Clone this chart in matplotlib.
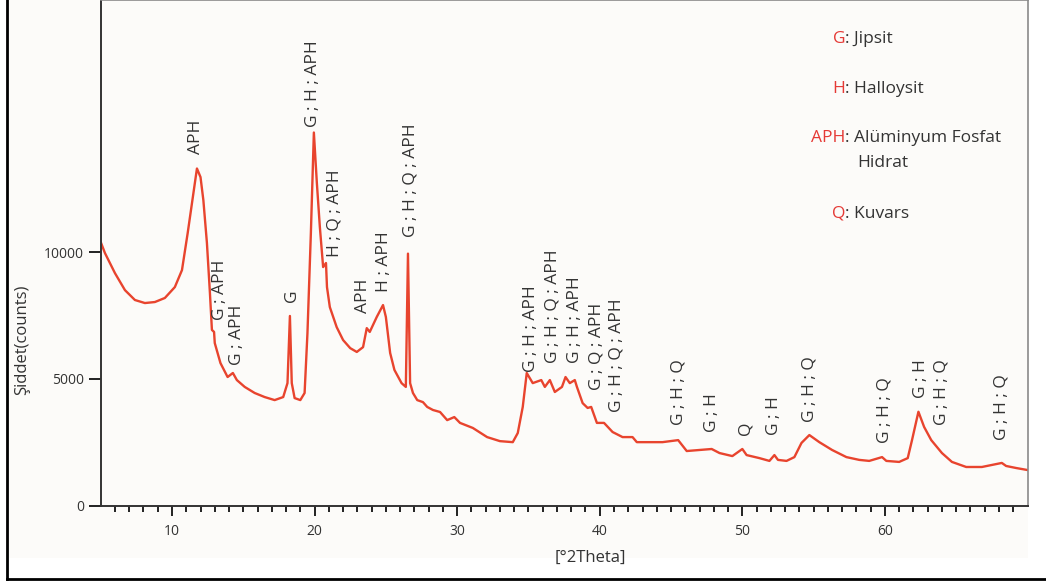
import matplotlib
matplotlib.use("Agg")
import matplotlib.pyplot as plt
from matplotlib.lines import Line2D
from matplotlib.patches import Rectangle

plt.rcParams["font.family"] = ["Open Sans", "DejaVu Sans"]

# ── Diffractogram ─────────────────────────────────────────────────────────────
two_theta = [
    5.0, 5.3, 6.0, 6.7, 7.4, 8.1, 8.8, 9.5, 10.2, 10.7, 11.1, 11.5, 11.75,
    12.0, 12.2, 12.45, 12.66, 12.8, 12.95, 13.0, 13.4, 13.9, 14.27, 14.55,
    15.1, 15.8, 16.5, 17.2, 17.8, 18.1, 18.27, 18.4, 18.6, 19.0, 19.3, 19.5,
    19.74, 19.88, 19.95, 20.16, 20.37, 20.6, 20.8, 20.87, 21.07, 21.55, 22.0,
    22.5, 22.96, 23.4, 23.66, 23.87, 24.36, 24.8, 25.0, 25.3, 25.6, 26.1,
    26.4, 26.55, 26.7, 26.9, 27.2, 27.6, 27.9, 28.3, 28.8, 29.3, 29.8, 30.2,
    31.1, 32.1, 33.0, 33.9, 34.25, 34.6, 34.88, 35.3, 35.9, 36.15, 36.5,
    36.85, 37.35, 37.6, 37.9, 38.25, 38.4, 38.8, 39.15, 39.4, 39.8, 40.3,
    40.9, 41.6, 42.3, 42.6, 43.7, 44.4, 45.5, 46.1, 47.0, 47.85, 48.4, 49.3,
    50.0, 50.3, 51.2, 51.9, 52.25, 52.5, 53.1, 53.65, 54.15, 54.7, 55.4,
    56.3, 57.3, 58.2, 58.9, 59.8, 60.1, 61.0, 61.6, 61.9, 62.35, 62.75,
    63.25, 63.7, 64.0, 64.7, 65.7, 66.8, 67.5, 68.2, 68.5, 69.2, 70.0,
]
counts = [
    10400, 9960, 9170, 8500, 8110, 7990, 8030, 8190, 8620, 9290, 10750, 12330,
    13300, 12960, 12050, 10360, 8390, 6930, 6850, 6410, 5620, 5070, 5230, 4950,
    4680, 4440, 4280, 4160, 4280, 4830, 7480, 4830, 4240, 4160, 4440, 6800,
    10750, 13380, 14720, 12730, 10990, 9410, 9570, 8620, 7830, 7040, 6530,
    6210, 6060, 6250, 7000, 6850, 7440, 7910, 7440, 6020, 5350, 4830,
    4680, 9940, 4830, 4440, 4160, 4080, 3890, 3770, 3690, 3370, 3490, 3260,
    3060, 2700, 2540, 2500, 2860, 3890, 5230, 4830, 4950, 4680, 4950,
    4480, 4680, 5070, 4830, 4950, 4680, 4040, 3850, 3890, 3260, 3260,
    2900, 2700, 2700, 2500, 2500, 2500, 2580, 2150, 2190, 2230, 2070, 1950,
    2230, 1990, 1870, 1760, 1990, 1800, 1760, 1910, 2470, 2780, 2500,
    2190, 1910, 1800, 1760, 1910, 1760, 1720, 1870, 2580, 3700, 3100,
    2580, 2270, 2070, 1720, 1520, 1520, 1600, 1680, 1560, 1480, 1400,
]

# Phase labels: text, 2θ position, lower end of the rotated label (counts)
peak_labels = [
    "APH", "G ; APH", "G ; APH", "G", "G ; H ; APH", "H ; Q ; APH", "APH",
    "H ; APH", "G ; H ; Q ; APH", "G ; H ; APH", "G ; H ; Q ; APH",
    "G ; H ; APH", "G ; Q ; APH", "G ; H ; Q ; APH", "G ; H ; Q", "G ; H",
    "Q", "G ; H", "G ; H ; Q", "G ; H ; Q", "G ; H", "G ; H ; Q", "G ; H ; Q",
]
label_x = [
    11.7, 13.4, 14.55, 18.4, 19.9, 21.4, 23.4, 24.9, 26.7, 35.2, 36.7,
    38.25, 39.8, 41.2, 45.5, 47.9, 50.2, 52.25, 54.7, 60.0, 62.5, 64.0, 68.2,
]
label_y = [
    13870, 7320, 5540, 8030, 14940, 9810, 7600, 8430, 10600, 5270, 5620,
    5620, 4560, 3690, 3180, 2900, 2780, 2780, 3300, 2460, 4240, 3180, 2580,
]

# Phase key in the upper right corner
key_codes = ["G", "H", "APH", "", "Q"]
key_names = ["Jipsit", "Halloysit", "Alüminyum Fosfat", "Hidrat", "Kuvars"]
key_rows_px = [39, 89, 138, 163, 214]

LINE_RED = "#e8442e"
KEY_RED = "#e53935"
TEXT_GREY = "#333333"

W, H = 1046, 583
fig = plt.figure(figsize=(W / 100, H / 100), dpi=100)
fig.patch.set_facecolor("white")

# faint paper tone behind the plot plus the black frame on left and bottom
fig.add_artist(Rectangle((7 / W, 1 - 558 / H), (1028 - 7) / W, 558 / H,
                         transform=fig.transFigure, facecolor="#fcfbf9",
                         edgecolor="none", zorder=0))
fig.add_artist(Line2D([7 / W, 7 / W], [1 - 579 / H, 1.0],
                      transform=fig.transFigure, color="black", lw=2))
fig.add_artist(Line2D([7 / W, 1.0], [1 - 579 / H, 1 - 579 / H],
                      transform=fig.transFigure, color="black", lw=2))

ax = fig.add_axes([100.7 / W, 1 - 505.5 / H, (1027.5 - 100.7) / W, 505.5 / H])
ax.set_facecolor("none")

ax.plot(two_theta, counts, color=LINE_RED, lw=1.7, solid_joinstyle="round")

ax.set_xlim(5, 70)
ax.set_ylim(0, 19950)

ax.set_xticks([10, 20, 30, 40, 50, 60])
ax.set_xticks(range(6, 70), minor=True)
ax.set_yticks([0, 5000, 10000])
ax.tick_params(axis="x", which="major", length=7, width=1.4, direction="out",
               colors="#222222", labelcolor=TEXT_GREY, labelsize=10, pad=6)
ax.tick_params(axis="x", which="minor", length=4, width=1.4, direction="out",
               colors="#222222")
ax.tick_params(axis="y", which="major", length=9, width=1.4, direction="out",
               colors="#222222", labelcolor=TEXT_GREY, labelsize=10, pad=3)

for side in ("left", "bottom"):
    ax.spines[side].set_color("#333333")
    ax.spines[side].set_linewidth(1.4)
for side in ("top", "right"):
    ax.spines[side].set_color("#8a8a8a")
    ax.spines[side].set_linewidth(1.2)

ax.set_xlabel("[°2Theta]", fontsize=12, color=TEXT_GREY)
ax.xaxis.set_label_coords((590 - 100.7) / 926.8, -(550 - 505.5) / 505.5)
ax.set_ylabel("Şiddet(counts)", fontsize=12, color=TEXT_GREY)
ax.yaxis.set_label_coords((30 - 100.7) / 926.8, (505.5 - 340) / 505.5)

for txt, x, y in zip(peak_labels, label_x, label_y):
    ax.text(x, y, txt, rotation=90, ha="center", va="bottom",
            fontsize=12.5, color=TEXT_GREY)

# phase key: red code right-aligned before the colon, name after it
for code, name, row in zip(key_codes, key_names, key_rows_px):
    yk = 1 - row / H
    if code:
        fig.text(845 / W, yk, code, ha="right", va="center",
                 fontsize=12.5, color=KEY_RED)
        fig.text(845 / W, yk, ": " + name, ha="left", va="center",
                 fontsize=12.5, color=TEXT_GREY)
    else:
        fig.text(857 / W, yk, name, ha="left", va="center",
                 fontsize=12.5, color=TEXT_GREY)

fig.savefig("out.png", dpi=100)
